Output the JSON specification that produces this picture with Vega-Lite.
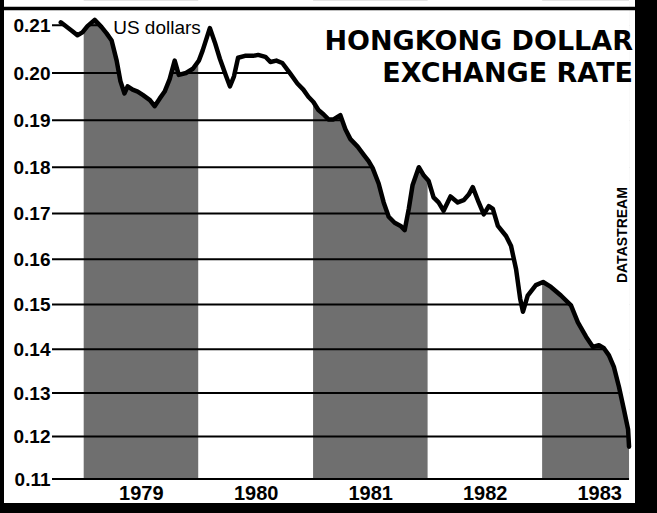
{
  "$schema": "https://vega.github.io/schema/vega-lite/v6.json",
  "autosize": "none",
  "width": 631,
  "height": 503,
  "padding": {"left": 4, "top": 0, "right": 22, "bottom": 10},
  "background": "black",
  "config": {"view": {"fill": "white", "stroke": null}},
  "title": {
    "text": ["HONGKONG DOLLAR", "EXCHANGE RATE"],
    "anchor": "end",
    "frame": "group",
    "orient": "top",
    "offset": -109,
    "baseline": "alphabetic",
    "font": "DejaVu Sans",
    "fontSize": 27,
    "fontWeight": "bold",
    "color": "black",
    "lineHeight": 32,
    "dx": -2
  },
  "datasets": {
    "series": [
      {"date": "1978-10-20", "rate": 0.2106},
      {"date": "1978-11-23", "rate": 0.2089},
      {"date": "1978-12-12", "rate": 0.2079},
      {"date": "1978-12-28", "rate": 0.2085},
      {"date": "1979-01-13", "rate": 0.2098},
      {"date": "1979-02-05", "rate": 0.2111},
      {"date": "1979-02-27", "rate": 0.2096},
      {"date": "1979-03-15", "rate": 0.2083},
      {"date": "1979-03-31", "rate": 0.2068},
      {"date": "1979-04-16", "rate": 0.2026},
      {"date": "1979-04-28", "rate": 0.1983},
      {"date": "1979-05-11", "rate": 0.1957},
      {"date": "1979-05-21", "rate": 0.1972},
      {"date": "1979-06-06", "rate": 0.1965},
      {"date": "1979-06-22", "rate": 0.1961},
      {"date": "1979-07-08", "rate": 0.1954},
      {"date": "1979-07-31", "rate": 0.1943},
      {"date": "1979-08-15", "rate": 0.1930},
      {"date": "1979-08-31", "rate": 0.1946},
      {"date": "1979-09-16", "rate": 0.1961},
      {"date": "1979-10-02", "rate": 0.1987},
      {"date": "1979-10-18", "rate": 0.2026},
      {"date": "1979-10-31", "rate": 0.1996},
      {"date": "1979-11-23", "rate": 0.2000},
      {"date": "1979-12-15", "rate": 0.2009},
      {"date": "1980-01-03", "rate": 0.2026},
      {"date": "1980-01-15", "rate": 0.2047},
      {"date": "1980-02-07", "rate": 0.2094},
      {"date": "1980-02-23", "rate": 0.2064},
      {"date": "1980-03-10", "rate": 0.2030},
      {"date": "1980-03-30", "rate": 0.1993},
      {"date": "1980-04-11", "rate": 0.1972},
      {"date": "1980-04-24", "rate": 0.1993},
      {"date": "1980-05-07", "rate": 0.2032},
      {"date": "1980-05-29", "rate": 0.2036},
      {"date": "1980-06-24", "rate": 0.2036},
      {"date": "1980-07-10", "rate": 0.2038},
      {"date": "1980-08-02", "rate": 0.2034},
      {"date": "1980-08-18", "rate": 0.2023},
      {"date": "1980-09-06", "rate": 0.2026},
      {"date": "1980-09-25", "rate": 0.2021},
      {"date": "1980-10-21", "rate": 0.1998},
      {"date": "1980-11-12", "rate": 0.1978},
      {"date": "1980-12-01", "rate": 0.1965},
      {"date": "1980-12-17", "rate": 0.1950},
      {"date": "1981-01-02", "rate": 0.1939},
      {"date": "1981-01-18", "rate": 0.1922},
      {"date": "1981-02-03", "rate": 0.1913},
      {"date": "1981-02-19", "rate": 0.1902},
      {"date": "1981-03-07", "rate": 0.1902},
      {"date": "1981-03-29", "rate": 0.1911},
      {"date": "1981-04-14", "rate": 0.1881},
      {"date": "1981-04-30", "rate": 0.1860},
      {"date": "1981-05-23", "rate": 0.1844},
      {"date": "1981-06-11", "rate": 0.1827},
      {"date": "1981-06-27", "rate": 0.1813},
      {"date": "1981-07-10", "rate": 0.1798},
      {"date": "1981-07-29", "rate": 0.1765},
      {"date": "1981-08-14", "rate": 0.1724},
      {"date": "1981-08-30", "rate": 0.1693},
      {"date": "1981-09-18", "rate": 0.1680},
      {"date": "1981-10-07", "rate": 0.1673},
      {"date": "1981-10-20", "rate": 0.1664},
      {"date": "1981-11-02", "rate": 0.1710},
      {"date": "1981-11-14", "rate": 0.1761},
      {"date": "1981-12-04", "rate": 0.1800},
      {"date": "1981-12-20", "rate": 0.1782},
      {"date": "1982-01-04", "rate": 0.1771},
      {"date": "1982-01-20", "rate": 0.1735},
      {"date": "1982-02-05", "rate": 0.1724},
      {"date": "1982-02-21", "rate": 0.1706},
      {"date": "1982-03-15", "rate": 0.1737},
      {"date": "1982-04-07", "rate": 0.1724},
      {"date": "1982-04-26", "rate": 0.1729},
      {"date": "1982-05-12", "rate": 0.1741},
      {"date": "1982-05-25", "rate": 0.1757},
      {"date": "1982-06-13", "rate": 0.1724},
      {"date": "1982-06-29", "rate": 0.1698},
      {"date": "1982-07-15", "rate": 0.1716},
      {"date": "1982-07-28", "rate": 0.1710},
      {"date": "1982-08-13", "rate": 0.1673},
      {"date": "1982-09-08", "rate": 0.1651},
      {"date": "1982-09-24", "rate": 0.1629},
      {"date": "1982-10-10", "rate": 0.1578},
      {"date": "1982-10-23", "rate": 0.1513},
      {"date": "1982-11-01", "rate": 0.1484},
      {"date": "1982-11-16", "rate": 0.1520},
      {"date": "1982-12-12", "rate": 0.1543},
      {"date": "1983-01-04", "rate": 0.1550},
      {"date": "1983-01-29", "rate": 0.1539},
      {"date": "1983-03-02", "rate": 0.1520},
      {"date": "1983-04-03", "rate": 0.1498},
      {"date": "1983-04-25", "rate": 0.1460},
      {"date": "1983-05-21", "rate": 0.1428},
      {"date": "1983-06-12", "rate": 0.1405},
      {"date": "1983-07-01", "rate": 0.1409},
      {"date": "1983-07-17", "rate": 0.1402},
      {"date": "1983-08-02", "rate": 0.1386},
      {"date": "1983-08-18", "rate": 0.1359},
      {"date": "1983-09-03", "rate": 0.1314},
      {"date": "1983-09-19", "rate": 0.1261},
      {"date": "1983-10-02", "rate": 0.1216},
      {"date": "1983-10-05", "rate": 0.1176}
    ],
    "bands": [
      {"start": "1979-01-01", "end": "1980-01-01"},
      {"start": "1981-01-01", "end": "1982-01-01"},
      {"start": "1983-01-01", "end": "1983-10-05"}
    ],
    "grid": [
      {"level": 0.11}, {"level": 0.12}, {"level": 0.13}, {"level": 0.14},
      {"level": 0.15}, {"level": 0.16}, {"level": 0.17}, {"level": 0.18},
      {"level": 0.19}, {"level": 0.20}, {"level": 0.21}
    ]
  },
  "layer": [
    {
      "data": {"name": "bands"},
      "mark": {"type": "rect", "color": "#6f6f6f", "opacity": 1},
      "encoding": {
        "x": {"field": "start", "type": "temporal",
              "scale": {"domain": [{"year": 1978, "month": 4, "date": 22}, {"year": 1983, "month": 10, "date": 24}]}},
        "x2": {"field": "end"},
        "y": {"datum": 0.11, "type": "quantitative",
              "scale": {"type": "pow", "exponent": 1.2, "domain": [0.10429, 0.21523], "nice": false, "zero": false}},
        "y2": {"datum": 0.2152}
      }
    },
    {
      "data": {"name": "grid"},
      "mark": {"type": "rule", "color": "black", "strokeWidth": 2},
      "encoding": {
        "x": {"datum": {"year": 1978, "month": 9, "date": 22}, "type": "temporal"},
        "x2": {"datum": {"year": 1983, "month": 10, "date": 5}},
        "y": {"field": "level", "type": "quantitative"}
      }
    },
    {
      "data": {"name": "series"},
      "mark": {"type": "area", "color": "white", "opacity": 1},
      "encoding": {
        "x": {"field": "date", "type": "temporal"},
        "y": {"field": "rate", "type": "quantitative"},
        "y2": {"datum": 0.2152}
      }
    },
    {
      "data": {"name": "series"},
      "mark": {"type": "line", "color": "black", "strokeWidth": 4.5, "strokeJoin": "round", "strokeCap": "round"},
      "encoding": {
        "x": {
          "field": "date", "type": "temporal",
          "axis": {
            "title": null, "orient": "bottom", "offset": -22, "zindex": 1,
            "values": [
              {"year": 1979, "month": 7, "date": 2},
              {"year": 1980, "month": 7, "date": 2},
              {"year": 1981, "month": 7, "date": 2},
              {"year": 1982, "month": 7, "date": 2},
              {"year": 1983, "month": 7, "date": 2}
            ],
            "format": "%Y", "domain": false, "ticks": false, "grid": false,
            "labelPadding": 2, "labelFlush": false, "labelOverlap": false,
            "labelFont": "Liberation Sans", "labelFontSize": 20, "labelFontWeight": "bold",
            "labelColor": "black", "labelAlign": "center", "labelBaseline": "top"
          }
        },
        "y": {
          "field": "rate", "type": "quantitative",
          "axis": {
            "title": null, "orient": "left", "offset": -48, "zindex": 1,
            "values": [0.11, 0.12, 0.13, 0.14, 0.15, 0.16, 0.17, 0.18, 0.19, 0.20, 0.21],
            "format": ".2f", "domain": false, "ticks": false, "grid": false,
            "labelPadding": 2, "labelFlush": false, "labelOverlap": false,
            "labelFont": "Liberation Sans", "labelFontSize": 19, "labelFontWeight": "bold",
            "labelColor": "black"
          }
        }
      }
    },
    {
      "data": {"values": [{"note": "US dollars"}]},
      "mark": {"type": "text", "color": "black", "align": "left", "baseline": "alphabetic",
               "font": "Liberation Sans", "fontSize": 19},
      "encoding": {
        "x": {"datum": {"year": 1979, "month": 4, "date": 5}, "type": "temporal"},
        "y": {"datum": 0.20816, "type": "quantitative"},
        "text": {"field": "note"}
      }
    },
    {
      "data": {"values": [{"note": "DATASTREAM"}]},
      "mark": {"type": "text", "color": "black", "align": "center", "baseline": "middle", "angle": 270,
               "font": "Liberation Sans", "fontSize": 14, "fontWeight": "bold"},
      "encoding": {
        "x": {"datum": {"year": 1983, "month": 9, "date": 16}, "type": "temporal"},
        "y": {"datum": 0.1653, "type": "quantitative"},
        "text": {"field": "note"}
      }
    },
    {
      "data": {"values": [{}]},
      "mark": {"type": "rule", "color": "black", "strokeWidth": 3.5},
      "encoding": {
        "y": {"datum": 0.21346, "type": "quantitative"}
      }
    }
  ]
}
